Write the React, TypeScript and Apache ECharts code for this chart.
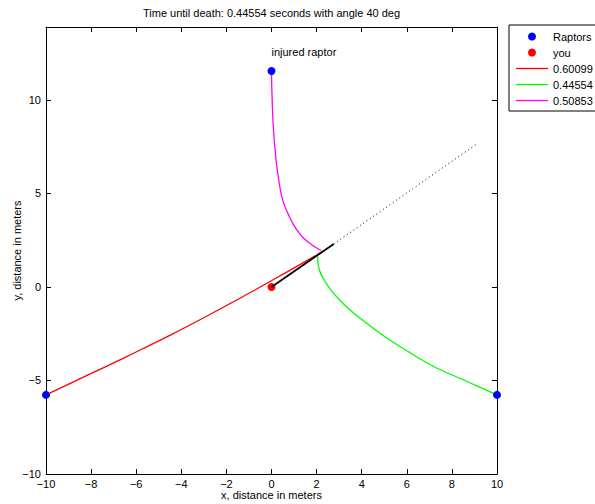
import React, { useEffect, useRef } from "react";
import * as echarts from "echarts";

const titleText = "Time until death: 0.44554 seconds with angle 40 deg";
const xName = "x, distance in meters";
const yName = "y, distance in meters";

const raptors: number[][] = [[-10, -5.77], [10, -5.77], [0, 11.55]];
const you: number[][] = [[0, 0]];

const redName = "0.60099";
const redPath: number[][] = [
  [-10, -5.77], [-8.85, -5.11], [-7.37, -4.27], [-5.89, -3.41], [-4.4, -2.52], [-2.92, -1.59],
  [-1.44, -0.63], [0.05, 0.37], [1.53, 1.38], [2.27, 1.9],
];
const greenName = "0.44554";
const greenPath: number[][] = [
  [10, -5.77], [8.65, -5.04], [7.17, -4.24], [5.68, -3.17], [4.9, -2.55], [4.2, -1.92],
  [3.55, -1.3], [3.01, -0.68], [2.65, -0.2], [2.42, 0.21], [2.22, 0.62], [2.12, 0.92],
  [2.06, 1.3], [2.05, 1.63],
];
const magentaName = "0.50853";
const magentaPath: number[][] = [
  [0, 11.55], [0.02, 10.36], [0.08, 8.57], [0.2, 6.8], [0.3, 5.9], [0.42, 5.02], [0.58, 4.35],
  [0.79, 3.77], [1.0, 3.28], [1.23, 2.88], [1.45, 2.58], [1.68, 2.35], [1.95, 2.12], [2.2, 1.95],
];
const runPath: number[][] = [[0, 0], [2.76, 2.3]];
const aimPath: number[][] = [[2.76, 2.3], [9.05, 7.6]];
const noteText = "injured raptor";
const notePoint: number[][] = [[0, 12.55]];

const FONT = "'Liberation Sans', Arial, Helvetica, sans-serif";
const minus = (v: number) => String(v).replace("-", "\u2212");
const LINE_ICON = "path://M0,0h32v1.3h-32z";

export default function App() {
  const ref = useRef<HTMLDivElement>(null);
  useEffect(() => {
    if (!ref.current) return;
    const chart = echarts.init(ref.current, undefined, { renderer: "svg" });
    const axisCommon = {
      type: "value" as const,
      axisLine: { show: true, onZero: false, lineStyle: { color: "#000", width: 1 } },
      axisTick: { show: true, inside: true, length: 5, lineStyle: { color: "#000" } },
      splitLine: { show: false },
      nameMoveOverlap: false,
    };
    const lineSeries = (name: string, data: number[][], color: string) => ({
      name,
      type: "line" as const,
      data,
      symbol: "none",
      smooth: 0.35,
      lineStyle: { color, width: 1.3 },
      itemStyle: { color },
      z: 2,
    });
    chart.setOption({
      animation: false,
      backgroundColor: "#fff",
      textStyle: { fontFamily: FONT },
      grid: { left: 46, right: 98, top: 27, bottom: 30, containLabel: false, outerBoundsMode: "none" },
      legend: {
        orient: "vertical",
        left: 509,
        top: 25,
        padding: [6, 7, 5, 7],
        itemGap: 5,
        itemWidth: 32,
        itemHeight: 8,
        borderColor: "#000",
        borderWidth: 1,
        borderRadius: 0,
        backgroundColor: "#fff",
        textStyle: { fontFamily: FONT, fontSize: 11, color: "#000" },
        data: [
          { name: "Raptors", icon: "circle" },
          { name: "you", icon: "circle" },
          { name: redName, icon: LINE_ICON },
          { name: greenName, icon: LINE_ICON },
          { name: magentaName, icon: LINE_ICON },
        ],
      },
      xAxis: [
        {
          ...axisCommon,
          position: "bottom",
          min: -10,
          max: 10,
          interval: 2,
          name: xName,
          nameLocation: "middle",
          nameGap: 15,
          nameTextStyle: { fontFamily: FONT, fontSize: 11, color: "#000" },
          axisLabel: { color: "#000", fontFamily: FONT, fontSize: 11, margin: 4, formatter: minus },
        },
        {
          ...axisCommon,
          position: "top",
          min: -10,
          max: 10,
          interval: 2,
          name: titleText,
          nameLocation: "middle",
          nameGap: 9,
          nameTextStyle: { fontFamily: FONT, fontSize: 11, color: "#000" },
          axisLabel: { show: false },
        },
      ],
      yAxis: [
        {
          ...axisCommon,
          position: "left",
          min: -10,
          max: 13.9,
          interval: 5,
          name: yName,
          nameLocation: "middle",
          nameGap: 24,
          nameTextStyle: { fontFamily: FONT, fontSize: 11, color: "#000" },
          axisLabel: { color: "#000", fontFamily: FONT, fontSize: 11, margin: 5, formatter: minus, showMaxLabel: false },
        },
        {
          ...axisCommon,
          position: "right",
          min: -10,
          max: 13.9,
          interval: 5,
          axisLabel: { show: false },
        },
      ],
      series: [
        lineSeries(redName, redPath, "#ff0000"),
        lineSeries(greenName, greenPath, "#00ff00"),
        lineSeries(magentaName, magentaPath, "#ff00ff"),
        {
          name: "aim",
          type: "line",
          data: aimPath,
          symbol: "none",
          lineStyle: { color: "#000", width: 1, type: [1, 3] },
          z: 3,
        },
        {
          name: "Raptors",
          type: "scatter",
          data: raptors,
          symbol: "circle",
          symbolSize: 8,
          itemStyle: { color: "#0000ff", opacity: 1 },
          z: 4,
        },
        {
          name: "you",
          type: "scatter",
          data: you,
          symbol: "circle",
          symbolSize: 8,
          itemStyle: { color: "#ff0000", opacity: 1 },
          z: 4,
        },
        {
          name: "run",
          type: "line",
          data: runPath,
          symbol: "none",
          lineStyle: { color: "#000", width: 1.8 },
          z: 5,
        },
        {
          name: "note",
          type: "scatter",
          data: notePoint,
          symbolSize: 0,
          silent: true,
          itemStyle: { opacity: 1 },
          label: {
            show: true,
            position: "right",
            distance: 0,
            formatter: noteText,
            color: "#000",
            opacity: 1,
            fontFamily: FONT,
            fontSize: 11,
          },
          z: 6,
        },
      ],
    });
    return () => chart.dispose();
  }, []);
  return (
    <div
      ref={ref}
      style={{ position: "fixed", left: 0, top: 0, width: 595, height: 504, background: "#fff" }}
    />
  );
}
